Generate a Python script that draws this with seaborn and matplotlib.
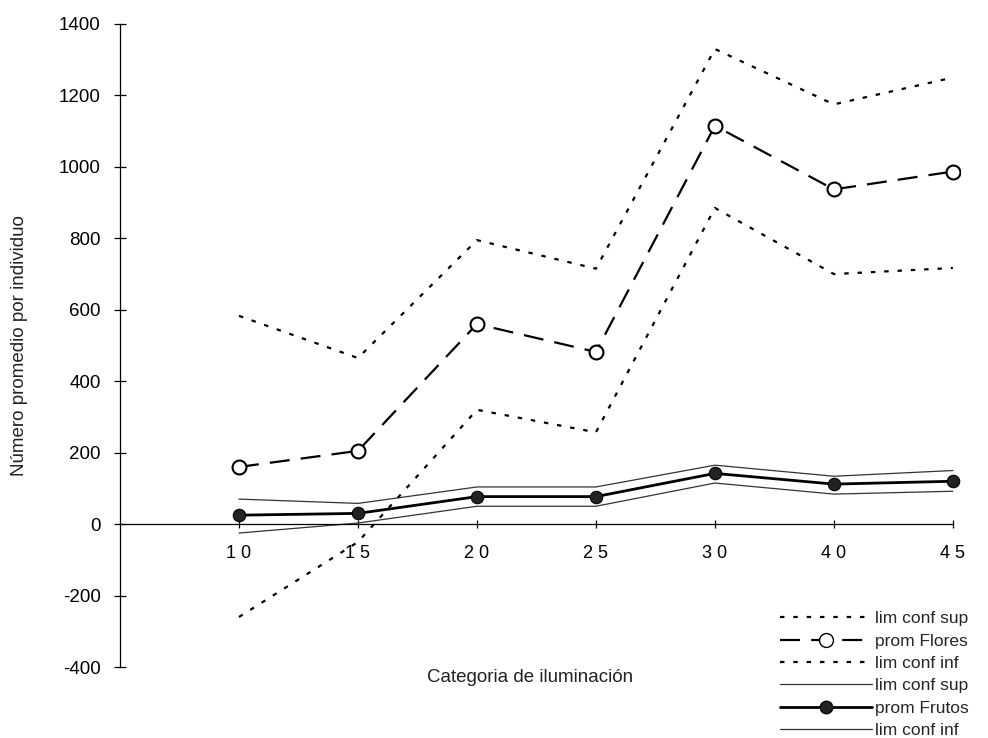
import matplotlib
matplotlib.use("Agg")
import matplotlib.pyplot as plt
import seaborn as sns
import numpy as np
import pandas as pd
from matplotlib.lines import Line2D

# Light categories and per-category means with 95% confidence limits
categorias = [10, 15, 20, 25, 30, 40, 45]
flores_sup = [583, 465, 795, 715, 1330, 1175, 1250]
flores_prom = [160, 205, 560, 482, 1115, 937, 987]
flores_inf = [-260, -50, 320, 257, 885, 700, 717]
frutos_sup = [70, 58, 104, 104, 165, 134, 150]
frutos_prom = [25, 30, 77, 77, 142, 112, 120]
frutos_inf = [-25, 3, 50, 50, 115, 84, 92]

sns.set_theme(style="white")
plt.rcParams["font.family"] = ["Liberation Sans", "DejaVu Sans"]
plt.rcParams["axes.unicode_minus"] = False

fig = plt.figure(figsize=(9.88, 7.38), dpi=100)
ax = fig.add_axes([120 / 988, 71 / 738, 840 / 988, 643 / 738])

pos = np.arange(len(categorias))
df = pd.DataFrame({
    "pos": pos,
    "flores_sup": flores_sup, "flores_prom": flores_prom, "flores_inf": flores_inf,
    "frutos_sup": frutos_sup, "frutos_prom": frutos_prom, "frutos_inf": frutos_inf,
})

dotted = (0, (2.0, 4.0))
dashed = (0, (9, 5))

sns.lineplot(data=df, x="pos", y="flores_sup", ax=ax, color="black",
             linewidth=1.6, linestyle=dotted)
sns.lineplot(data=df, x="pos", y="flores_inf", ax=ax, color="black",
             linewidth=1.6, linestyle=dotted)
sns.lineplot(data=df, x="pos", y="flores_prom", ax=ax, color="black",
             linewidth=1.6, linestyle=dashed, marker="o", markersize=10,
             markerfacecolor="white", markeredgecolor="black", markeredgewidth=1.5)
sns.lineplot(data=df, x="pos", y="frutos_sup", ax=ax, color="#333333", linewidth=0.9)
sns.lineplot(data=df, x="pos", y="frutos_inf", ax=ax, color="#333333", linewidth=0.9)
sns.lineplot(data=df, x="pos", y="frutos_prom", ax=ax, color="black",
             linewidth=2.0, marker="o", markersize=9,
             markerfacecolor="#222222", markeredgecolor="black")

ax.set_xlim(-1, 6.06)
ax.set_ylim(-400, 1400)
ax.set_yticks(range(-400, 1401, 200))
ax.set_xticks(pos)
ax.set_xticklabels([" ".join(str(c)) for c in categorias])

for s in ("top", "right"):
    ax.spines[s].set_visible(False)
ax.spines["bottom"].set_position(("data", 0))
ax.spines["bottom"].set_bounds(-1, 6)
for s in ("left", "bottom"):
    ax.spines[s].set_color("black")
    ax.spines[s].set_linewidth(0.9)

ax.tick_params(axis="y", direction="inout", length=8, width=0.9, colors="black",
               labelsize=13.5, pad=10, left=True)
ax.tick_params(axis="x", direction="inout", length=6, width=0.9, colors="black",
               labelsize=13, pad=12, bottom=True)

ax.set_xlabel("")
ax.set_ylabel("Número promedio por individuo", fontsize=13.5, color="#222222", labelpad=22)
fig.text(530 / 988, 1 - 677 / 738, "Categoria de iluminación", fontsize=13.5,
         color="#222222", ha="center", va="center")

handles = [
    Line2D([], [], color="black", linewidth=1.6, linestyle=dotted),
    Line2D([], [], color="black", linewidth=1.6, linestyle=dashed, marker="o",
           markersize=10, markerfacecolor="white", markeredgecolor="black"),
    Line2D([], [], color="black", linewidth=1.6, linestyle=dotted),
    Line2D([], [], color="#333333", linewidth=0.9),
    Line2D([], [], color="black", linewidth=2.0, marker="o", markersize=9,
           markerfacecolor="#222222", markeredgecolor="black"),
    Line2D([], [], color="#333333", linewidth=0.9),
]
labels = ["lim conf sup", "prom Flores", "lim conf inf",
          "lim conf sup", "prom Frutos", "lim conf inf"]
fig.legend(handles, labels, loc="upper left",
           bbox_to_anchor=(780 / 988, 1 - 611 / 738), frameon=False,
           fontsize=12.5, handlelength=5.3, handletextpad=0.15,
           labelspacing=0.42, borderpad=0, borderaxespad=0)

fig.savefig("out.png", dpi=100, facecolor="white")
